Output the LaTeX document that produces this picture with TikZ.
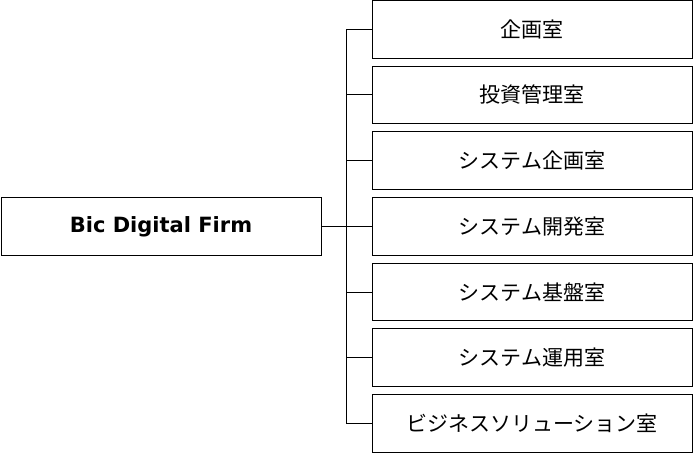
\documentclass[tikz,border=0pt]{standalone}
\usepackage{fontspec}
\setmainfont{Noto Sans CJK JP}
\newfontfamily\firmfont{DejaVu Sans}
\usetikzlibrary{positioning}
\tikzset{
  unit/.style={draw, line width=1pt, outer sep=0pt, minimum width=320pt, minimum height=57.7pt, inner sep=0pt, font=\fontsize{21}{25}\selectfont},
  link/.style={line width=1pt}
}
\begin{document}
\begin{tikzpicture}[x=1pt, y=-1pt, node distance=8pt]
                    \useasboundingbox (0,0) rectangle (693,453);
                    \node[unit] (r1) at (532,29.2) {企画室};
                    \node[unit] (r2) [below=of r1] {投資管理室};
                    \node[unit] (r3) [below=of r2] {システム企画室};
                    \node[unit] (r4) [below=of r3] {システム開発室};
                    \node[unit] (r5) [below=of r4] {システム基盤室};
                    \node[unit] (r6) [below=of r5] {システム運用室};
                    \node[unit] (r7) [below=of r6] {ビジネスソリューション室};
                    \node[unit, font=\fontsize{21}{25}\firmfont\bfseries] (firm) at (161,226.3) {Bic Digital Firm};
                    \coordinate (bus) at (346.5,0);

                    \draw[link] (r1.west) -- (r1.west -| bus) -- (r7.west -| bus) -- (r7.west);
                    \foreach \i in {2,...,6}
                        \draw[link] (r\i.west) -- (r\i.west -| bus);
                    \draw[link] (firm.east) -- (firm.east -| bus);
                \end{tikzpicture}
\end{document}
